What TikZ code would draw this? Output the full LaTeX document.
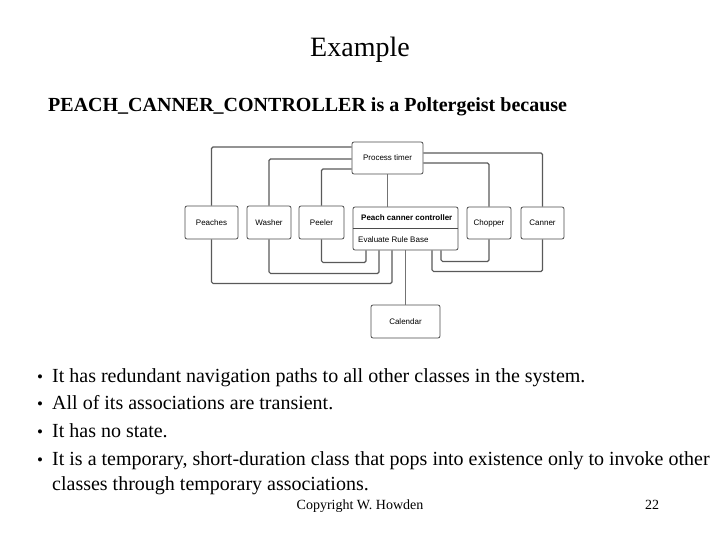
\documentclass[tikz,border=0pt]{standalone}
\usepackage{fontspec}
\setmainfont{Liberation Serif}
\newfontfamily\umlfont{Liberation Sans}
\usetikzlibrary{positioning, calc}
\tikzset{
  classbox/.style={rectangle, draw=black!70, line width=0.8pt, rounded corners=2pt,
    fill=white, font=\umlfont\fontsize{8}{9}\selectfont, inner sep=1pt},
  classtext/.style={anchor=west, inner sep=0pt, font=\umlfont\fontsize{8}{9}\selectfont},
  wire/.style={draw=black!65, line width=1.2pt, rounded corners=1.5pt},
  thinwire/.style={draw=black!55, line width=0.7pt},
  slidetext/.style={anchor=base west, inner sep=0pt, font=\fontsize{20}{23}\selectfont},
  bulletdot/.style={anchor=base, inner sep=0pt, font=\fontsize{17}{20}\selectfont},
}

\begin{document}
\begin{tikzpicture}[x=1pt, y=-1pt]
  \useasboundingbox (0,0) rectangle (720,540);

  % ----- heading --------------------------------------------------------------
  \node[font=\fontsize{28}{31}\selectfont, anchor=base] (title) at (360,57) {Example};
  \node[slidetext, font=\bfseries\fontsize{20}{23}\selectfont] (claim) at (48,112)
    {PEACH\_CANNER\_CONTROLLER is a Poltergeist because};

  % ----- class boxes ------------------------------------------------------------
  \node[classbox, minimum width=71pt, minimum height=32pt] (timer) at (387.5,158) {Process timer};
  \node[classbox, minimum width=53pt, minimum height=33pt] (peaches) at (211.5,222.5) {Peaches};
  \node[classbox, minimum width=44pt, minimum height=33pt] (washer) at (269,222.5) {Washer};
  \node[classbox, minimum width=45pt, minimum height=33pt] (peeler) at (321.5,222.5) {Peeler};
  \node[classbox, minimum width=44pt, minimum height=32pt] (chopper) at (489,223) {Chopper};
  \node[classbox, minimum width=43pt, minimum height=32pt] (canner) at (542.5,223) {Canner};
  \node[classbox, minimum width=69pt, minimum height=33pt] (calendar) at (405.5,321.5) {Calendar};

  % controller with its two compartments
  \node[classbox, minimum width=105pt, minimum height=43pt] (ctrl) at (405.5,228.5) {};
  \draw[draw=black!70, line width=0.8pt] (ctrl.west) -- (ctrl.east);
  \node[classtext, font=\umlfont\bfseries\fontsize{8}{9}\selectfont] (ctrlname) at (361,217.5) {Peach canner controller};
  \node[classtext] (rulebase) at (358,239.5) {Evaluate Rule Base};

  % ----- timer associations -----------------------------------------------------
  \draw[wire] ([yshift=11pt]timer.west) -| (peaches.north);
  \draw[wire] ([yshift=-1pt]timer.west) -| (washer.north);
  \draw[wire] ([yshift=-11pt]timer.west) -| (peeler.north);
  \draw[wire] ([yshift=5pt]timer.east) -| (canner.north);
  \draw[wire] ([yshift=-5pt]timer.east) -| (chopper.north);
  \draw[thinwire] (timer.south) -- (timer.south |- ctrl.north);

  % ----- controller associations ------------------------------------------------
  \draw[wire] (peeler.south) -- ++(0,23) -| ([xshift=-39.5pt]ctrl.south);
  \draw[wire] (washer.south) -- ++(0,34) -| ([xshift=-26.5pt]ctrl.south);
  \draw[wire] (peaches.south) -- ++(0,44) -| ([xshift=-13.5pt]ctrl.south);
  \draw[wire] (chopper.south) -- ++(0,22) -| ([xshift=35.5pt]ctrl.south);
  \draw[wire] (canner.south) -- ++(0,32) -| ([xshift=26.5pt]ctrl.south);
  \draw[thinwire] (ctrl.south) -- (calendar.north);

  % ----- bullet list --------------------------------------------------------------
  \node[bulletdot] (b1) at (40,382) {\textbullet};
  \node[slidetext] (t1) at (52,382) {It has redundant navigation paths to all other classes in the system.};
  \node[bulletdot] (b2) at (40,409) {\textbullet};
  \node[slidetext] (t2) at (52,409) {All of its associations are transient.};
  \node[bulletdot] (b3) at (40,437) {\textbullet};
  \node[slidetext] (t3) at (52,437) {It has no state.};
  \node[bulletdot] (b4) at (40,465) {\textbullet};
  \node[slidetext] (t4) at (52,465) {It is a temporary, short-duration class that pops into existence only to invoke other};
  \node[slidetext] (t5) at (52,490) {classes through temporary associations.};

  % ----- footer -------------------------------------------------------------------
  \node[anchor=base, inner sep=0pt, font=\fontsize{14}{16}\selectfont] (copy) at (360,509) {Copyright W. Howden};
  \node[anchor=base, inner sep=0pt, font=\fontsize{14}{16}\selectfont] (page) at (652,509) {22};
\end{tikzpicture}
\end{document}
